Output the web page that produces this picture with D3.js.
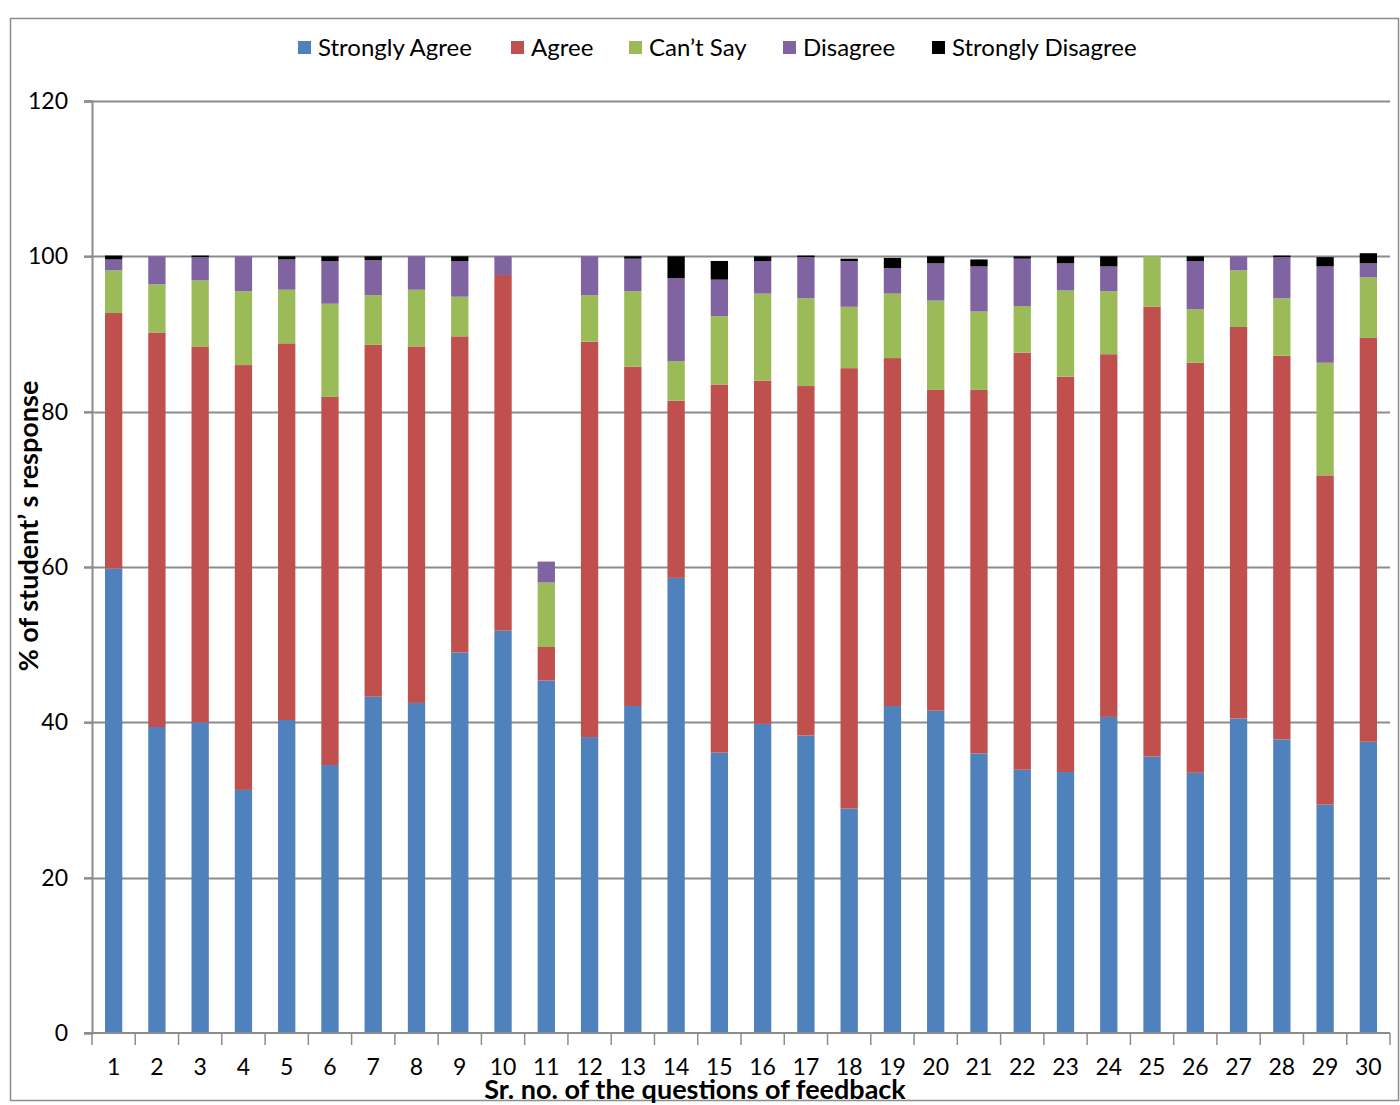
<!DOCTYPE html>
<html>
<head>
<meta charset="utf-8" />
<title>Feedback responses</title>
<script src="https://cdn.jsdelivr.net/npm/d3@7"></script>
<style>
    html, body { margin: 0; padding: 0; background: #fff; }
    text { font-family: Lato, "Liberation Sans", sans-serif; fill: #000; }
</style>
</head>
<body>
<script>
// question numbers 1..30
var questions = ["1","2","3","4","5","6","7","8","9","10","11","12","13","14","15","16","17","18","19","20","21","22","23","24","25","26","27","28","29","30"];
var seriesNames = ["Strongly Agree", "Agree", "Can\u2019t Say", "Disagree", "Strongly Disagree"];
var yTicks = [0, 20, 40, 60, 80, 100, 120];

// % of responses
var stronglyAgree    = [59.8,39.4,40.0,31.3,40.3,34.5,43.3,42.5,49.0,51.8,45.4,38.1,42.1,58.6,36.1,39.8,38.3,28.9,42.1,41.5,36.0,33.9,33.6,40.7,35.6,33.5,40.5,37.8,29.4,37.5];
var agree            = [32.9,50.8,48.4,54.7,48.5,47.4,45.3,45.9,40.7,45.8, 4.3,50.9,43.7,22.8,47.4,44.2,45.0,56.7,44.8,41.3,46.8,53.7,50.9,46.7,57.9,52.8,50.4,49.4,42.4,52.0];
var cantSay          = [ 5.5, 6.2, 8.5, 9.5, 6.9,12.0, 6.4, 7.3, 5.1, 0.0, 8.3, 6.0, 9.7, 5.1, 8.8,11.2,11.3, 7.9, 8.3,11.5,10.1, 6.0,11.1, 8.1, 6.5, 6.9, 7.3, 7.4,14.5, 7.8];
var disagree         = [ 1.4, 3.6, 3.0, 4.5, 3.9, 5.5, 4.5, 4.3, 4.6, 2.4, 2.7, 5.0, 4.2,10.7, 4.7, 4.2, 5.3, 5.9, 3.3, 4.8, 5.8, 6.1, 3.5, 3.2, 0.0, 6.2, 1.8, 5.3,12.4, 1.8];
var stronglyDisagree = [ 0.5, 0.0, 0.2, 0.0, 0.4, 0.6, 0.5, 0.0, 0.6, 0.0, 0.0, 0.0, 0.3, 2.8, 2.4, 0.6, 0.2, 0.3, 1.3, 0.9, 0.9, 0.3, 0.9, 1.3, 0.0, 0.6, 0.0, 0.2, 1.2, 1.3];

var colors = ["#4F81BD", "#C0504D", "#9BBB59", "#8064A2", "#000000"];
var keys = ["sa", "a", "cs", "d", "sd"];

var width = 1400, height = 1105;
var margin = {left: 92, right: 10, top: 101, bottom: 72};

var svg = d3.select("body").append("svg").attr("width", width).attr("height", height);

// chart frame
svg.append("rect").attr("x", 10.5).attr("y", 18.5).attr("width", 1388).attr("height", 1082)
    .attr("fill", "none").attr("stroke", "#8c8c8c").attr("stroke-width", 1.5);

var rows = questions.map(function(q, i){
    return {q: q, sa: stronglyAgree[i], a: agree[i], cs: cantSay[i], d: disagree[i], sd: stronglyDisagree[i]};
});

var x = d3.scaleBand().domain(questions).range([margin.left, width - margin.right]).paddingInner(0.6).paddingOuter(0.3);
var y = d3.scaleLinear().domain([0, 120]).range([height - margin.bottom, margin.top]);

// grid lines
svg.append("g").selectAll("line").data(yTicks.filter(function(t){ return t > 0; })).enter().append("line")
    .attr("x1", margin.left - 8).attr("x2", width - margin.right)
    .attr("y1", function(d){ return Math.round(y(d)) + 0.5; }).attr("y2", function(d){ return Math.round(y(d)) + 0.5; })
    .attr("stroke", "#8c8c8c").attr("stroke-width", 2);

// stacked bars
var stack = d3.stack().keys(keys)(rows);
svg.append("g").selectAll("g").data(stack).enter().append("g")
    .attr("fill", function(d, i){ return colors[i]; })
    .selectAll("rect").data(function(d){ return d; }).enter().append("rect")
    .attr("x", function(d){ return x(d.data.q); })
    .attr("width", x.bandwidth())
    .attr("y", function(d){ return y(d[1]); })
    .attr("height", function(d){ return Math.max(0, y(d[0]) - y(d[1])); });

// y axis
var yAxis = svg.append("g").attr("transform", "translate(" + margin.left + ",0)")
    .call(d3.axisLeft(y).tickValues(yTicks).tickSize(8).tickPadding(16));
yAxis.select(".domain").attr("stroke", "#8c8c8c").attr("stroke-width", 2);
yAxis.selectAll(".tick line").attr("stroke", "#8c8c8c").attr("stroke-width", 2);
yAxis.selectAll("text").attr("font-size", 23).attr("font-family", "Lato, sans-serif").attr("fill", "#000");

// x axis: ticks between categories
var xAxis = svg.append("g").attr("transform", "translate(0," + y(0) + ")");
xAxis.append("line").attr("x1", margin.left - 8).attr("x2", width - margin.right)
    .attr("stroke", "#8c8c8c").attr("stroke-width", 2);
xAxis.selectAll(".sep").data(d3.range(questions.length + 1)).enter().append("line")
    .attr("x1", function(i){ return margin.left + i * (width - margin.right - margin.left) / questions.length; })
    .attr("x2", function(i){ return margin.left + i * (width - margin.right - margin.left) / questions.length; })
    .attr("y1", 0).attr("y2", 12).attr("stroke", "#8c8c8c").attr("stroke-width", 1.5);
xAxis.selectAll(".lbl").data(questions).enter().append("text")
    .attr("x", function(d){ return x(d) + x.bandwidth() / 2; })
    .attr("y", 42).attr("text-anchor", "middle").attr("font-size", 23).text(function(d){ return d; });

// axis titles
svg.append("text").attr("x", 695).attr("y", 1099).attr("text-anchor", "middle")
    .attr("font-size", 27).attr("font-weight", "bold").text("Sr. no. of the questions of feedback");
svg.append("text").attr("transform", "translate(38,526) rotate(-90)").attr("text-anchor", "middle")
    .attr("font-size", 27).attr("font-weight", "bold").text("% of student\u2019 s response");

// legend
var legendX = [298, 511, 629, 783, 932];
var legend = svg.append("g").selectAll("g").data(seriesNames).enter().append("g")
    .attr("transform", function(d, i){ return "translate(" + legendX[i] + ",41)"; });
legend.append("rect").attr("width", 13).attr("height", 13).attr("fill", function(d, i){ return colors[i]; });
legend.append("text").attr("x", 20).attr("y", 15).attr("font-size", 24).text(function(d){ return d; });
</script>
</body>
</html>
